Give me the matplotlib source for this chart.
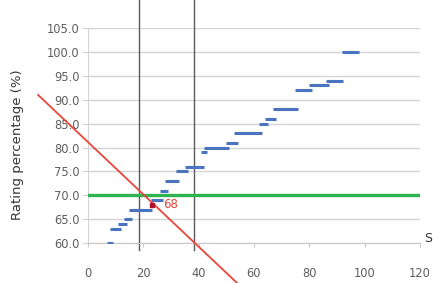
import matplotlib
matplotlib.use("Agg")
import matplotlib.pyplot as plt
import numpy as np

# rating data (score vs rating percentage)
score = [8, 9, 10, 11, 12, 13, 14, 15, 16, 17, 18, 19, 20, 21, 22,
         24, 25, 26, 27, 28, 29, 30, 31, 32, 33, 34, 35,
         36, 37, 38, 39, 40, 41, 42, 43, 44, 45, 46, 47, 48, 49, 50,
         51, 52, 53, 54, 55, 56, 57, 58, 59, 60, 61, 62, 63, 64,
         65, 66, 67, 68, 69, 70, 71, 72, 73, 74, 75,
         76, 77, 78, 79, 80, 81, 82, 83, 84, 85, 86,
         87, 88, 89, 90, 91, 93, 94, 95, 96, 97]
rating = [60, 63, 63, 63, 64, 64, 65, 65, 67, 67, 67, 67, 67, 67, 67,
          69, 69, 69, 71, 71, 73, 73, 73, 73, 75, 75, 75,
          76, 76, 76, 76, 76, 76, 79, 80, 80, 80, 80, 80, 80, 80, 80,
          81, 81, 81, 83, 83, 83, 83, 83, 83, 83, 83, 83, 85, 85,
          86, 86, 86, 88, 88, 88, 88, 88, 88, 88, 88,
          92, 92, 92, 92, 92, 93, 93, 93, 93, 93, 93,
          94, 94, 94, 94, 94, 100, 100, 100, 100, 100]

# highlighted point
hx = [23]
hy = [68]
hlabel = "68"

# reference lines
threshold = 70
vlines_x = [18.6, 38.3]
red_x = [-18, 54]
red_y = [91, 51.6]

yticks = [60, 65, 70, 75, 80, 85, 90, 95, 100, 105]
xticks = [0, 20, 40, 60, 80, 100, 120]

fig = plt.figure(figsize=(4.33, 2.83), dpi=100)
ax = fig.add_axes([0.203, 0.141, 0.767, 0.760])

ax.set_xlim(0, 120)
ax.set_ylim(60, 105)
ax.set_yticks(yticks)
ax.set_yticklabels(['%.1f' % v for v in yticks])
ax.set_xticks(xticks)
ax.grid(axis='y', color='#d4d4d4', linewidth=1)
ax.set_axisbelow(True)
for s in ['top', 'right']:
    ax.spines[s].set_visible(False)
ax.spines['left'].set_color('#d4d4d4')
ax.spines['bottom'].set_color('#c8c8c8')
ax.tick_params(axis='y', length=4, color='#d4d4d4', labelsize=8.3,
               labelcolor='#5e5e5e', pad=2)
ax.tick_params(axis='x', length=3, color='#c8c8c8', labelsize=8.3,
               labelcolor='#5e5e5e', pad=14)

ax.plot(score, rating, linestyle='none', marker='_', markersize=4,
        markeredgewidth=2.2, color='#4a74c0', zorder=3)
ax.plot(hx, hy, linestyle='none', marker='s', markersize=3.5,
        color='#b0102a', zorder=5)
ax.annotate(hlabel, (hx[0], hy[0]), xytext=(8, 0), textcoords='offset points',
            color='#e8463c', fontsize=8.5, va='center')

ax.axhline(threshold, color='#2db350', linewidth=2.4, zorder=4)
for vx in vlines_x:
    ax.plot([vx, vx], [58.5, 111], color='#5a5a5a', linewidth=1,
            clip_on=False, zorder=2)
ax.plot(red_x, red_y, color='#e8463c', linewidth=1.3, clip_on=False, zorder=4)

fig.text(18 / 433, 1 - 145 / 283, 'Rating percentage (%)', rotation=90,
         ha='center', va='center', fontsize=9.5, color='#333333')
fig.text(424 / 433, 1 - 238 / 283, 'S', ha='left', va='center',
         fontsize=9, color='#333333')

fig.savefig('out.png', dpi=100)
